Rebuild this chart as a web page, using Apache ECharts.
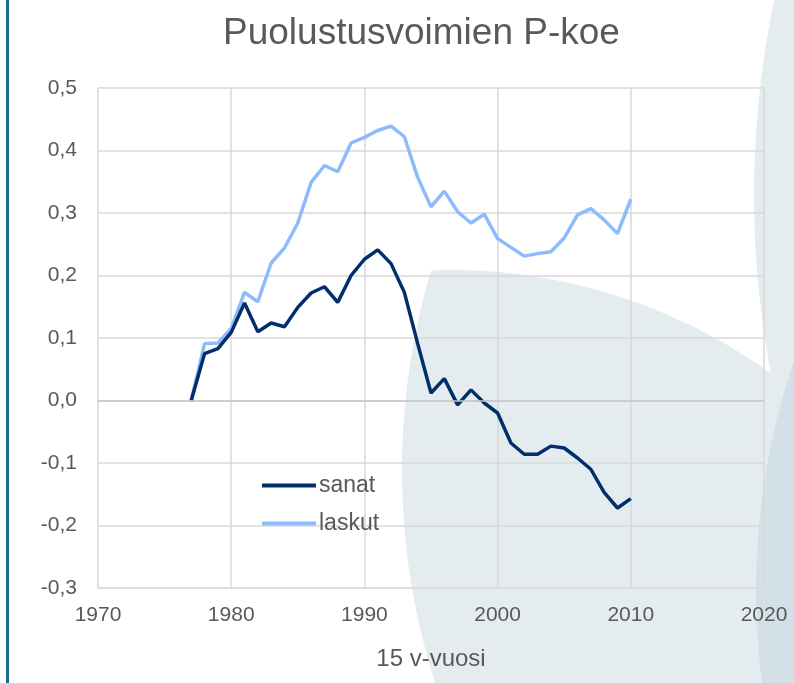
<!DOCTYPE html>
<html>
<head>
<meta charset="utf-8">
<title>Puolustusvoimien P-koe</title>
<script src="https://cdn.jsdelivr.net/npm/echarts@6/dist/echarts.min.js"></script>
<style>
    html, body {margin: 0; padding: 0; background: #fff;}
    #main {width: 794px; height: 683px;}
</style>
</head>
<body>
<div id="main"></div>
<script>
// vuodet ja tulokset
var years = [1977, 1978, 1979, 1980, 1981, 1982, 1983, 1984, 1985, 1986, 1987, 1988, 1989, 1990,
    1991, 1992, 1993, 1994, 1995, 1996, 1997, 1998, 1999, 2000, 2001, 2002, 2003, 2004, 2005,
    2006, 2007, 2008, 2009, 2010];
var sanat = [0.0, 0.075, 0.083, 0.109, 0.156, 0.110, 0.124, 0.118, 0.149, 0.172, 0.182, 0.157,
    0.200, 0.226, 0.241, 0.219, 0.173, 0.091, 0.012, 0.035, -0.007, 0.017, -0.004, -0.020,
    -0.068, -0.086, -0.086, -0.073, -0.076, -0.092, -0.110, -0.147, -0.172, -0.157];
var laskut = [0.0, 0.091, 0.092, 0.115, 0.173, 0.158, 0.220, 0.244, 0.284, 0.349, 0.376, 0.366,
    0.412, 0.421, 0.432, 0.439, 0.422, 0.357, 0.310, 0.335, 0.302, 0.284, 0.298, 0.259,
    0.245, 0.231, 0.235, 0.238, 0.260, 0.297, 0.307, 0.289, 0.267, 0.322];
var seriesNames = ['sanat', 'laskut'];

function pairs(vals) {
    var arr = [];
    for (var i = 0; i < years.length; i++) {
        arr.push([years[i], vals[i]]);
    }
    return arr;
}

// taustan ympyröiden leikkaus (koristekuvio)
function lens(a, b) {
    var pts = [];
    var n = 720;
    for (var i = 0; i < n; i++) {
        var t = i / n * Math.PI * 2;
        var x = a.cx + a.r * Math.cos(t), y = a.cy + a.r * Math.sin(t);
        if ((x - b.cx) * (x - b.cx) + (y - b.cy) * (y - b.cy) <= b.r * b.r) pts.push([x, y]);
        x = b.cx + b.r * Math.cos(t);
        y = b.cy + b.r * Math.sin(t);
        if ((x - a.cx) * (x - a.cx) + (y - a.cy) * (y - a.cy) <= a.r * a.r) pts.push([x, y]);
    }
    var mx = 0, my = 0;
    pts.forEach(function (p) { mx += p[0]; my += p[1]; });
    mx /= pts.length; my /= pts.length;
    pts.sort(function (p, q) {
        return Math.atan2(p[1] - my, p[0] - mx) - Math.atan2(q[1] - my, q[0] - mx);
    });
    return pts;
}

var bigShape = lens({cx: 1102, cy: 470, r: 700}, {cx: 451, cy: 816, r: 546});
var textColor = '#595959';
var font = "'Liberation Sans', Arial, sans-serif";

var option = {
    animation: false,
    backgroundColor: '#ffffff',
    title: {
        text: 'Puolustusvoimien P-koe',
        left: 218,
        top: 10,
        textStyle: {color: textColor, fontSize: 37, fontWeight: 'normal', fontFamily: font}
    },
    graphic: [
        {type: 'polygon', z: -5, silent: true, shape: {points: bigShape}, style: {fill: '#e5ecf0'}},
        {type: 'circle', z: -5, silent: true, shape: {cx: 1709, cy: 195, r: 955}, style: {fill: '#e5ecf0'}},
        {type: 'circle', z: -4, silent: true, shape: {cx: 1468, cy: 590, r: 712}, style: {fill: '#d3e0e7'}},
        {type: 'rect', z: -3, silent: true, shape: {x: 6, y: 0, width: 3, height: 683}, style: {fill: '#1f6e8c'}}
    ],
    legend: {
        orient: 'vertical',
        left: 257,
        top: 469,
        itemGap: 15,
        itemWidth: 54,
        itemHeight: 4,
        icon: 'rect',
        data: seriesNames,
        textStyle: {color: textColor, fontSize: 23, fontFamily: font, padding: [0, 0, 0, -2]}
    },
    grid: {left: 98, right: 30, top: 88, bottom: 95},
    xAxis: {
        type: 'value',
        min: 1970,
        max: 2020,
        interval: 10,
        name: '15 v-vuosi',
        nameLocation: 'middle',
        nameGap: 59,
        nameTextStyle: {color: textColor, fontSize: 24, fontFamily: font},
        axisLine: {onZero: false, lineStyle: {color: '#d9d9d9'}},
        axisTick: {show: false},
        axisLabel: {
            color: textColor, fontSize: 21, fontFamily: font, margin: 17,
            formatter: function (v) {
                return String(v);
            }
        },
        splitLine: {show: true, lineStyle: {color: '#d9d9d9', width: 1.5}}
    },
    yAxis: {
        type: 'value',
        min: -0.3,
        max: 0.5,
        interval: 0.1,
        axisLine: {show: false},
        axisTick: {show: false},
        axisLabel: {
            color: textColor, fontSize: 21, fontFamily: font, margin: 21,
            formatter: function (v) {
                return v.toFixed(1).replace('.', ',');
            }
        },
        splitLine: {show: true, lineStyle: {color: '#d9d9d9', width: 1.5}}
    },
    series: [
        {
            name: 'sanat',
            type: 'line',
            data: pairs(sanat),
            showSymbol: false,
            symbol: 'none',
            color: '#002f6c',
            lineStyle: {width: 3.5, color: '#002f6c'},
            z: 3,
            markLine: {
                silent: true,
                symbol: 'none',
                label: {show: false},
                lineStyle: {color: '#c6c6c6', width: 1.5, type: 'solid'},
                data: [{yAxis: 0}]
            }
        },
        {
            name: 'laskut',
            type: 'line',
            data: pairs(laskut),
            showSymbol: false,
            symbol: 'none',
            color: '#8dbbfc',
            lineStyle: {width: 3.5, color: '#8dbbfc'},
            z: 2
        }
    ]
};

var myChart = echarts.init(document.getElementById('main'));
myChart.setOption(option);
</script>
</body>
</html>
